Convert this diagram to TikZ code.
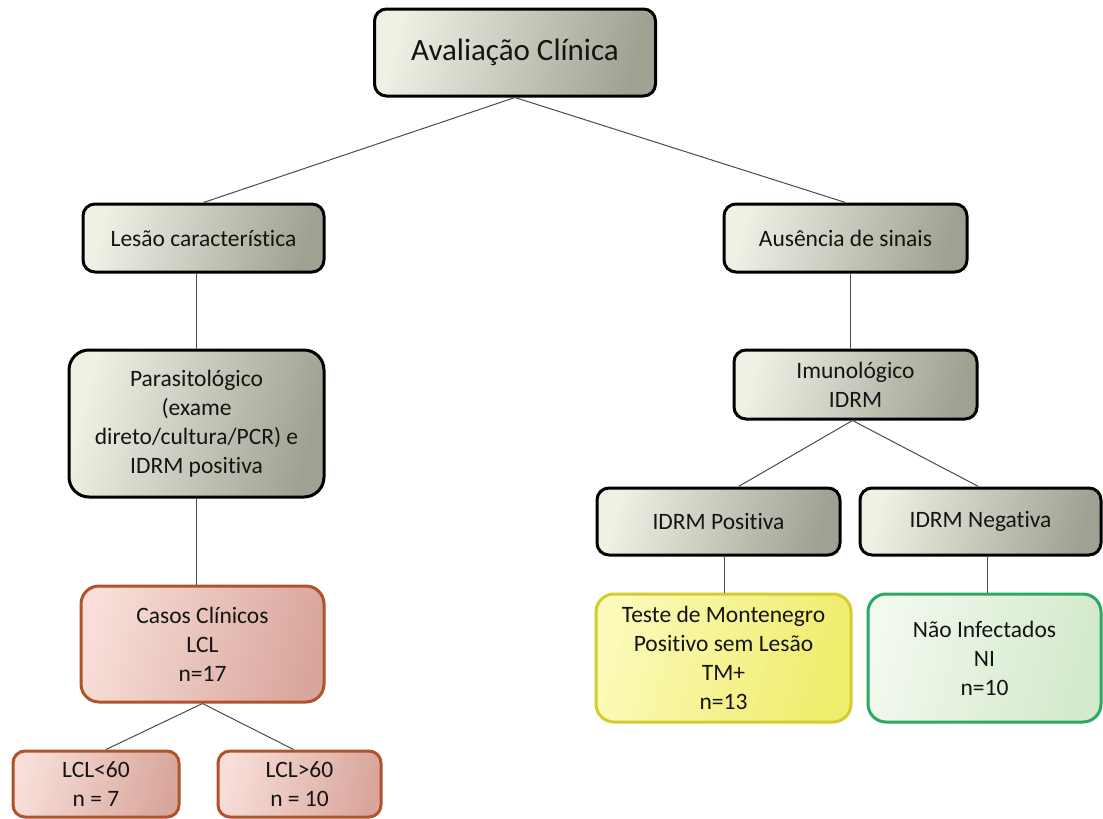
\documentclass[tikz,border=0pt]{standalone}
\usepackage{fontspec}
\setmainfont{Carlito}[Ligatures={NoCommon}]
\usetikzlibrary{calc}
\definecolor{gL}{HTML}{EEF1E4}
\definecolor{gD}{HTML}{9FA192}
\definecolor{rL}{HTML}{F7DED8}
\definecolor{rD}{HTML}{D9A69C}
\definecolor{rB}{HTML}{B0532C}
\definecolor{yL}{HTML}{FBFAB8}
\definecolor{yD}{HTML}{F0EC6C}
\definecolor{yB}{HTML}{D2CD2C}
\definecolor{nL}{HTML}{F2F9EE}
\definecolor{nD}{HTML}{D3E9CB}
\definecolor{nB}{HTML}{2BA862}
\definecolor{txt}{HTML}{141414}
\begin{document}
\begin{tikzpicture}[x=1pt,y=-1pt,
  base/.style={line width=3pt, align=center, inner sep=0pt, text=txt,
    font=\fontsize{23.5}{29}\selectfont},
  graybox/.style={base, draw=black, rounded corners=12pt, left color=gL, right color=gD, shading angle=75},
  redbox/.style={base, draw=rB, rounded corners=18pt, left color=rL, right color=rD, shading angle=75},
  yelbox/.style={base, draw=yB, rounded corners=18pt, left color=yL, right color=yD, shading angle=75},
  grnbox/.style={base, draw=nB, rounded corners=18pt, left color=nL, right color=nD, shading angle=75},
  link/.style={line width=1pt, draw=black!70}
]
\useasboundingbox (0,0) rectangle (1103,819);
\fill[white] (0,0) rectangle (1103,819);

\node[graybox, minimum width=281pt, minimum height=87pt, font=\fontsize{31}{36}\selectfont] (av) at (515,52.5) {Avaliação Clínica};
\node[graybox, minimum width=241pt, minimum height=68pt] (les) at (203.5,238) {Lesão característica};
\node[graybox, minimum width=243pt, minimum height=68pt] (aus) at (845.5,238) {Ausência de sinais};
\node[graybox, rounded corners=20pt, minimum width=255pt, minimum height=147pt] (par) at (196.5,423.5) {Parasitológico\\(exame\\direto/cultura/PCR) e\\IDRM positiva};
\node[graybox, minimum width=243pt, minimum height=69pt] (imu) at (855.5,384.5) {Imunológico\\IDRM};
\node[graybox, minimum width=243pt, minimum height=67pt] (pos) at (718.5,521.5) {IDRM Positiva};
\node[graybox, minimum width=241pt, minimum height=67pt] (neg) at (980.5,521.5) {IDRM Negativa};
\node[redbox, minimum width=243pt, minimum height=116pt] (cas) at (202.5,644) {Casos Clínicos\\LCL\\n=17};
\node[yelbox, minimum width=255pt, minimum height=128pt] (tm) at (723.5,658) {Teste de Montenegro\\Positivo sem Lesão\\TM+\\n=13};
\node[grnbox, minimum width=233pt, minimum height=128pt] (ni) at (984.5,658) {Não Infectados\\NI\\n=10};
\node[redbox, rounded corners=12pt, minimum width=166pt, minimum height=66pt] (l60) at (96,784) {LCL<60\\n = 7};
\node[redbox, rounded corners=12pt, minimum width=163pt, minimum height=66pt] (g60) at (299.5,784) {LCL>60\\n = 10};

\draw[link] (av.south) -- (les.north);
\draw[link] (av.south) -- (aus.north);
\draw[link] (par.north) -- (par.north |- les.south);
\draw[link] (par.south) -- (par.south |- cas.north);
\draw[link] (cas.south) -- ($(l60.north)+(10,0)$);
\draw[link] (cas.south) -- ($(g60.north)+(-6,0)$);
\draw[link] ($(aus.south)+(4.5,0)$) -- ($(imu.north)+(-5.5,0)$);
\draw[link] ($(imu.south)+(-3,0)$) -- ($(pos.north)+(20,0)$);
\draw[link] ($(imu.south)+(-3,0)$) -- ($(neg.north)+(-2,0)$);
\draw[link] ($(tm.north)+(0.5,0)$) -- ($(tm.north |- pos.south)+(0.5,0)$);
\draw[link] ($(ni.north)+(2.5,0)$) -- ($(ni.north |- neg.south)+(2.5,0)$);
\end{tikzpicture}
\end{document}
